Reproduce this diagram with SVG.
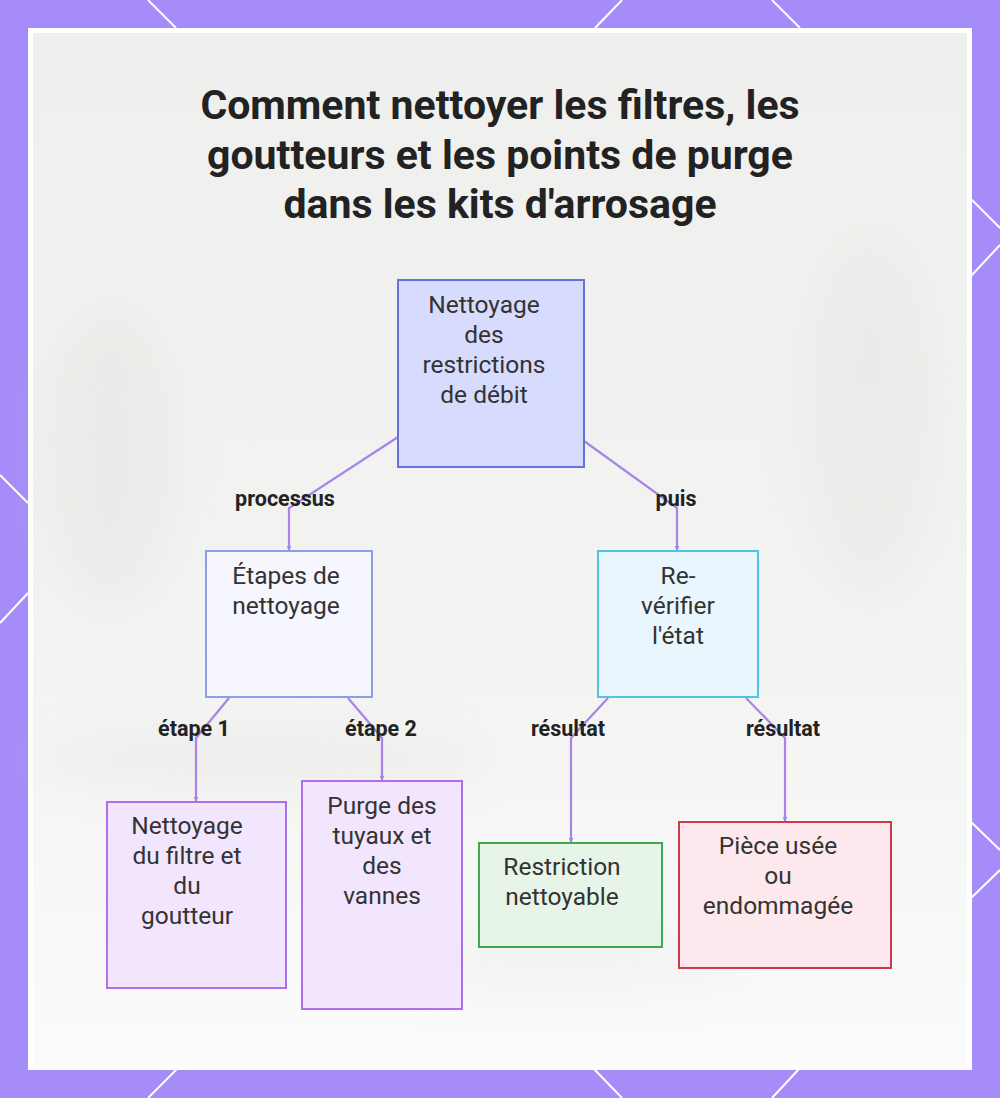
<svg xmlns="http://www.w3.org/2000/svg" width="1000" height="1098" viewBox="0 0 1000 1098">
  <defs>
    <style>
      .title { font-family: Roboto, "Liberation Sans", sans-serif; font-weight: 700; font-size: 41px; fill: #222222; text-anchor: middle; }
      .nt { font-family: Roboto, "Liberation Sans", sans-serif; font-size: 24.5px; fill: #333333; text-anchor: middle; }
      .lbl { font-family: Roboto, "Liberation Sans", sans-serif; font-weight: 700; font-size: 21.5px; fill: #222222; text-anchor: middle; }
      .edge { fill: none; stroke: #a783ea; stroke-width: 2.2; marker-end: url(#arr); }
      .deco { stroke: #ffffff; stroke-width: 2; fill: none; }
    </style>
    <marker id="arr" viewBox="0 0 6 6" refX="5" refY="3" markerWidth="5" markerHeight="5" orient="auto" markerUnits="userSpaceOnUse">
      <path d="M0,0 L6,3 L0,6 Z" fill="#a783ea"/>
    </marker>
    <linearGradient id="bg" x1="0" y1="0" x2="0" y2="1">
      <stop offset="0" stop-color="#efefed"/>
      <stop offset="0.6" stop-color="#f3f3f2"/>
      <stop offset="1" stop-color="#fbfbfb"/>
    </linearGradient>
    <filter id="blur" x="-50%" y="-50%" width="200%" height="200%">
      <feGaussianBlur stdDeviation="22"/>
    </filter>
  </defs>

  <!-- frame -->
  <rect x="0" y="0" width="1000" height="1098" fill="#a68cf8"/>
  <g class="deco">
    <line x1="148" y1="0" x2="176" y2="28"/>
    <line x1="622" y1="0" x2="595" y2="28"/>
    <line x1="772" y1="0" x2="800" y2="28"/>
    <line x1="148" y1="1098" x2="177" y2="1069"/>
    <line x1="622" y1="1098" x2="594" y2="1069"/>
    <line x1="772" y1="1098" x2="799" y2="1069"/>
    <line x1="0" y1="475" x2="28" y2="503"/>
    <line x1="28" y1="593" x2="0" y2="623"/>
    <line x1="971" y1="199" x2="1000" y2="228"/>
    <line x1="1000" y1="245" x2="971" y2="276"/>
    <line x1="971" y1="822" x2="1000" y2="850"/>
    <line x1="1000" y1="870" x2="971" y2="898"/>
  </g>
  <rect x="28" y="28" width="944" height="1042" fill="#ffffff"/>
  <rect x="33" y="33" width="934" height="1032" fill="url(#bg)"/>
  <g filter="url(#blur)" opacity="0.18">
    <ellipse cx="110" cy="460" rx="70" ry="150" fill="#d0d0ce"/>
    <ellipse cx="870" cy="420" rx="70" ry="180" fill="#d4d4d2"/>
    <ellipse cx="260" cy="760" rx="230" ry="35" fill="#cfcfcd"/>
    <ellipse cx="560" cy="960" rx="200" ry="35" fill="#d8d8d6"/>
  </g>

  <!-- title -->
  <g id="title">
    <text class="title" x="500" y="119">Comment nettoyer les filtres, les</text>
    <text class="title" x="500" y="169">goutteurs et les points de purge</text>
    <text class="title" x="500" y="218">dans les kits d'arrosage</text>
  </g>

  <!-- connectors -->
  <g id="connectors">
    <path class="edge" d="M398,437 L289,508 L289,550"/>
    <path class="edge" d="M584,441 L677,508 L677,550"/>
    <path class="edge" d="M229,698 L196,738 L196,801"/>
    <path class="edge" d="M348,698 L382,738 L382,780"/>
    <path class="edge" d="M608,698 L571,738 L571,842"/>
    <path class="edge" d="M746,698 L785,738 L785,821"/>
    <text class="lbl" x="285" y="506">processus</text>
    <text class="lbl" x="676" y="506">puis</text>
    <text class="lbl" x="194" y="736">étape 1</text>
    <text class="lbl" x="381" y="736">étape 2</text>
    <text class="lbl" x="568" y="736">résultat</text>
    <text class="lbl" x="783" y="736">résultat</text>
  </g>

  <!-- nodes -->
  <g id="node-root">
    <rect x="398" y="280" width="186" height="187" fill="#d7dbfd" stroke="#6474d6" stroke-width="2"/>
    <text class="nt" x="484" y="313">Nettoyage</text>
    <text class="nt" x="484" y="343">des</text>
    <text class="nt" x="484" y="373">restrictions</text>
    <text class="nt" x="484" y="403">de débit</text>
  </g>
  <g id="node-etapes">
    <rect x="206" y="551" width="166" height="146" fill="#f5f6fe" stroke="#8c9ee6" stroke-width="2"/>
    <text class="nt" x="286" y="584">Étapes de</text>
    <text class="nt" x="286" y="614">nettoyage</text>
  </g>
  <g id="node-reverifier">
    <rect x="598" y="551" width="160" height="146" fill="#eaf6fd" stroke="#4fc3e5" stroke-width="2"/>
    <text class="nt" x="678" y="584">Re-</text>
    <text class="nt" x="678" y="614">vérifier</text>
    <text class="nt" x="678" y="644">l'état</text>
  </g>
  <g id="node-filtre">
    <rect x="107" y="802" width="179" height="186" fill="#f1e6fd" stroke="#b06ee8" stroke-width="2"/>
    <text class="nt" x="187" y="834">Nettoyage</text>
    <text class="nt" x="187" y="864">du filtre et</text>
    <text class="nt" x="187" y="894">du</text>
    <text class="nt" x="187" y="924">goutteur</text>
  </g>
  <g id="node-purge">
    <rect x="302" y="781" width="160" height="228" fill="#f1e6fd" stroke="#b06ee8" stroke-width="2"/>
    <text class="nt" x="382" y="814">Purge des</text>
    <text class="nt" x="382" y="844">tuyaux et</text>
    <text class="nt" x="382" y="874">des</text>
    <text class="nt" x="382" y="904">vannes</text>
  </g>
  <g id="node-nettoyable">
    <rect x="479" y="843" width="183" height="104" fill="#e7f5e9" stroke="#40a850" stroke-width="2"/>
    <text class="nt" x="562" y="875">Restriction</text>
    <text class="nt" x="562" y="905">nettoyable</text>
  </g>
  <g id="node-usee">
    <rect x="679" y="822" width="212" height="146" fill="#fde9ed" stroke="#cf3a4a" stroke-width="2"/>
    <text class="nt" x="778" y="854">Pièce usée</text>
    <text class="nt" x="778" y="884">ou</text>
    <text class="nt" x="778" y="914">endommagée</text>
  </g>
</svg>
